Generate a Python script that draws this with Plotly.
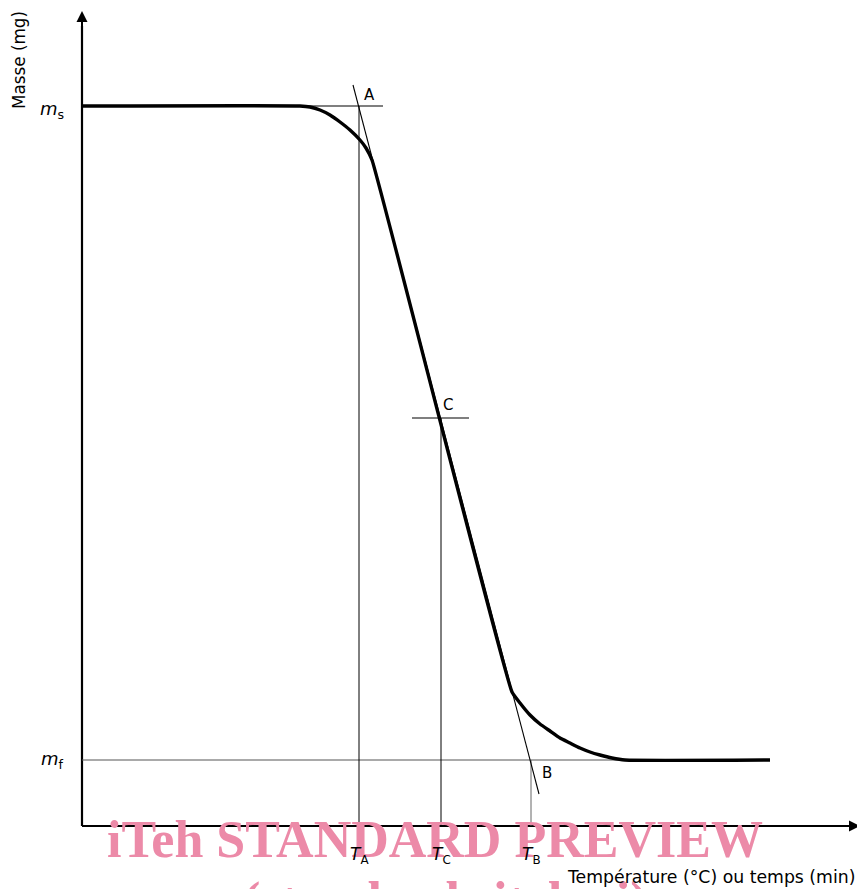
import plotly.graph_objects as go

# ---- data (schematic units: origin at axis corner) ----
temp = [0, 218, 228, 238, 248, 258, 268, 278, 284, 290, 430, 438, 448, 458,
        468, 478, 488, 498, 508, 518, 530, 543, 688]
mass = [720, 720, 719, 716, 711, 704, 696, 686, 678, 666, 134, 123, 111, 102,
        95, 88, 83, 78, 74, 71, 68, 66, 66]
m_s = 720
m_f = 66
T_A = 277
T_C = 359
T_B = 449
m_C = 408
tangent_x = [271, 457]
tangent_y = [741, 32]

FONT = "DejaVu Sans"
PINK = "rgb(236,138,168)"
fig = go.Figure()

def line(xs, ys, w=1, color="black"):
    fig.add_trace(go.Scatter(x=xs, y=ys, mode="lines", hoverinfo="skip",
                             line=dict(color=color, width=w), showlegend=False))

# axes
line([0, 0], [0, 800], 2.2)
line([0, 762], [0, 0], 2.2)
# reference lines
line([0, 301], [m_s, m_s], 1.2)
line([0, 688], [m_f, m_f], 1, "#555")
line([T_A, T_A], [0, m_s], 1)
line([T_C, T_C], [0, m_C], 1)
line([330, 387], [m_C, m_C], 1.2)
line([T_B, T_B], [0, m_f], 1, "#666")
line(tangent_x, tangent_y, 1.1)
# curve
fig.add_trace(go.Scatter(x=temp, y=mass, mode="lines", hoverinfo="skip",
                         line=dict(color="black", width=3.4, shape="spline", smoothing=0.4),
                         showlegend=False))

ann = []
# arrowheads
ann.append(dict(x=0, y=815, ax=0, ay=785, xref="x", yref="y", axref="x", ayref="y",
                showarrow=True, arrowhead=2, arrowsize=1.1, arrowwidth=2, arrowcolor="black", text=""))
ann.append(dict(x=778, y=0, ax=748, ay=0, xref="x", yref="y", axref="x", ayref="y",
                showarrow=True, arrowhead=2, arrowsize=1.1, arrowwidth=2, arrowcolor="black", text=""))

def txt(x, y, s, size=15, **kw):
    d = dict(x=x, y=y, xref="x", yref="y", text=s, showarrow=False,
             font=dict(family=FONT, size=size, color="black"))
    d.update(kw)
    ann.append(d)

# watermark (drawn first so the chart labels stay on top)
ann.append(dict(x=353, y=-13, xref="x", yref="y", text="<b>iTeh STANDARD PREVIEW</b>",
                showarrow=False, font=dict(family="Liberation Serif", size=52, color=PINK)))
ann.append(dict(x=363, y=-44, xref="x", yref="y", yanchor="top", text="<b>(standards.iteh.ai)</b>",
                showarrow=False, font=dict(family="Liberation Serif", size=52, color=PINK)))

txt(-30, 716, "<i>m</i><sub>s</sub>", 18)
txt(-30, 66, "<i>m</i><sub>f</sub>", 18)
txt(287, 731, "A", 15)
txt(366, 421, "C", 15)
txt(465, 53, "B", 15)
txt(T_A, -29, "<i>T</i><sub>A</sub>", 17)
txt(T_C, -29, "<i>T</i><sub>C</sub>", 17)
txt(T_B, -29, "<i>T</i><sub>B</sub>", 17)
txt(775, -51, "Température (°C) ou temps (min)", 17.3, xanchor="right")
txt(-63, 766, "Masse (mg)", 16.8, textangle=-90)

# page body has an 8px margin: size the figure so it ends at the window edge
fig.update_layout(
    width=857, height=881, margin=dict(l=0, r=0, t=0, b=0),
    plot_bgcolor="white", paper_bgcolor="white",
    xaxis=dict(range=[-74, 783], visible=False, fixedrange=True),
    yaxis=dict(range=[-63, 818], visible=False, fixedrange=True),
    annotations=ann,
)
fig.write_html("out.html")
